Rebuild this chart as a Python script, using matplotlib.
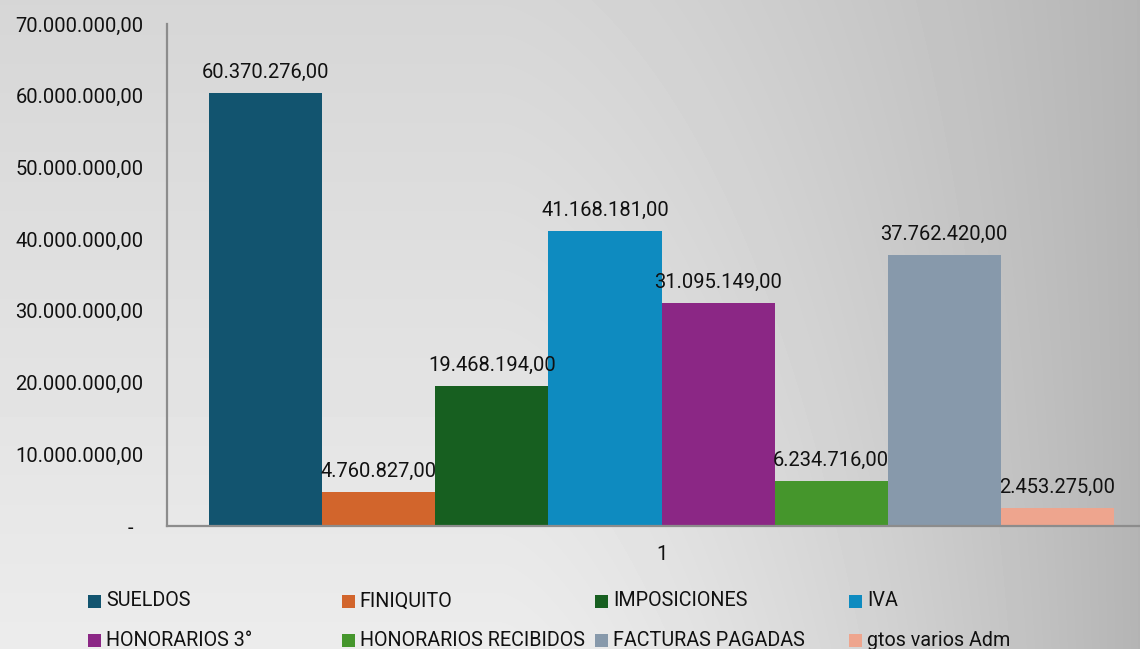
import matplotlib
matplotlib.use("Agg")
import matplotlib.pyplot as plt
import numpy as np
from matplotlib.patches import Rectangle

plt.rcParams['font.family'] = ['Roboto', 'DejaVu Sans']

series = ["SUELDOS", "FINIQUITO", "IMPOSICIONES", "IVA",
          "HONORARIOS 3°", "HONORARIOS RECIBIDOS", "FACTURAS PAGADAS", "gtos varios Adm"]
values = [60370276, 4760827, 19468194, 41168181, 31095149, 6234716, 37762420, 2453275]
colors = ['#12546f', '#d2652c', '#175f20', '#0e8bc0',
          '#8b2785', '#45962c', '#8799ab', '#eea58e']
category = "1"
yticks = [0, 10000000, 20000000, 30000000, 40000000, 50000000, 60000000, 70000000]


def fmt_es(v):
    if v == 0:
        return "-  "
    s = f"{v:,.2f}"
    return s.replace(",", "X").replace(".", ",").replace("X", ".")


W, H = 1140, 649
fig = plt.figure(figsize=(W / 100, H / 100), dpi=100)

# background gradient
xx, yy = np.meshgrid(np.arange(W), np.arange(H))
sx = np.clip((xx - 500) / 640, 0, 1) ** 1.5
sy = 1 - yy / H
bg = 236 - 56 * sx - 22 * sy * (1 - sx)
ax_bg = fig.add_axes([0, 0, 1, 1], zorder=-1)
ax_bg.imshow(bg, cmap='gray', vmin=0, vmax=255, aspect='auto', interpolation='bilinear')
ax_bg.axis('off')

ax = fig.add_axes([167 / W, (H - 526) / H, (1156 - 167) / W, (526 - 24) / H])
ax.set_facecolor('none')

n = len(series)
group = 0.915
w = group / n
for i, (name, v, c) in enumerate(zip(series, values, colors)):
    x = -group / 2 + w * (i + 0.5)
    b = ax.bar(x, v, width=w, color=c, label=name, zorder=2)
    ax.bar_label(b, labels=[fmt_es(v)], padding=8, fontsize=14.5, color='#111111')

ax.set_xlim(-0.5, 0.5)
ax.set_ylim(0, 70000000)
ax.set_yticks(yticks)
ax.set_yticklabels([fmt_es(v) for v in yticks])
ax.set_xticks([0])
ax.set_xticklabels([category])
ax.tick_params(axis='both', length=0, labelsize=14.5, colors='#111111')
ax.tick_params(axis='y', pad=17)
ax.tick_params(axis='x', pad=14)
for s in ['top', 'right']:
    ax.spines[s].set_visible(False)
for s in ['left', 'bottom']:
    ax.spines[s].set_color('#8c8c8c')
    ax.spines[s].set_linewidth(1.6)

# legend, 4 columns x 2 rows
col_x0, col_step = 88, 253.7
row_y = [601, 640]
msize = 13
for i, (name, c) in enumerate(zip(series, colors)):
    r, k = divmod(i, 4)
    px = col_x0 + col_step * k
    py = row_y[r]
    fig.patches.append(Rectangle((px / W, (H - py - msize / 2) / H), msize / W, msize / H,
                                 transform=fig.transFigure, facecolor=c, edgecolor='none'))
    fig.text((px + msize + 5) / W, (H - py) / H, name, fontsize=14.2, color='#111111',
             ha='left', va='center')

fig.savefig('out.png', dpi=100)
